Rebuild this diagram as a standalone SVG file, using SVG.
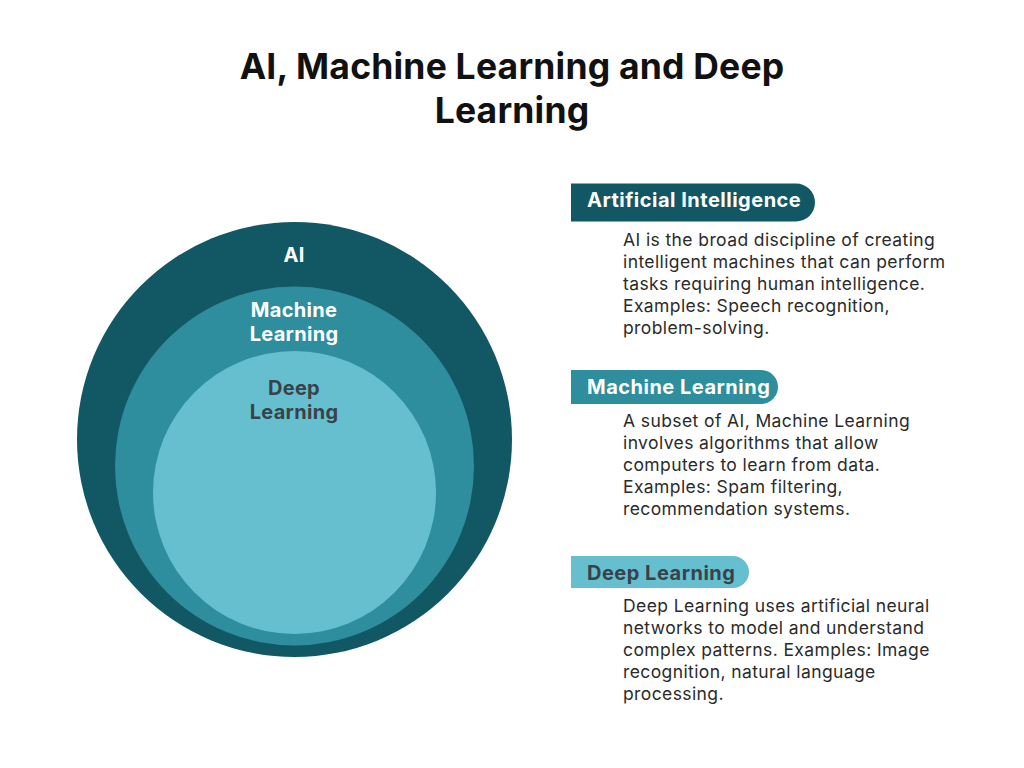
<svg xmlns="http://www.w3.org/2000/svg" width="1024" height="768" viewBox="0 0 1024 768">
<style>
.title{font-family:Inter,"Liberation Sans",sans-serif;font-weight:700;font-size:35.5px;fill:#111;text-anchor:middle;letter-spacing:0.2px}
.clabel{font-family:Inter,"Liberation Sans",sans-serif;font-weight:700;font-size:20px;text-anchor:middle;letter-spacing:0.3px}
.pill{font-family:Inter,"Liberation Sans",sans-serif;font-weight:700;font-size:20px;letter-spacing:0.5px}
.body{font-family:Inter,"Liberation Sans",sans-serif;font-size:17.5px;fill:#2b2b2b;letter-spacing:0.4px}
.w{fill:#ffffff}
.d{fill:#38424a}
</style>
<rect width="1024" height="768" fill="#ffffff"/>
<g id="title">
<text class="title" x="512" y="79">AI, Machine Learning and Deep</text>
<text class="title" x="512" y="123">Learning</text>
</g>
<g id="ai-circle">
<circle cx="294.5" cy="439.5" r="217.5" fill="#115864"/>
<text class="clabel w" x="294" y="262">AI</text>
</g>
<g id="ml-circle">
<circle cx="294.5" cy="466" r="179.5" fill="#2e8e9d"/>
<text class="clabel w" x="294" y="317">Machine</text>
<text class="clabel w" x="294" y="341">Learning</text>
</g>
<g id="dl-circle">
<circle cx="294.5" cy="492.5" r="141.5" fill="#66bfcf"/>
<text class="clabel d" x="294" y="395">Deep</text>
<text class="clabel d" x="294" y="419">Learning</text>
</g>
<g id="ai-desc">
<path d="M571 183.5 H796 A19 19 0 0 1 796 221.5 H571 Z" fill="#115864"/>
<text class="pill w" x="587" y="206.5">Artificial Intelligence</text>
<text class="body" x="623" y="246">AI is the broad discipline of creating</text>
<text class="body" x="623" y="268">intelligent machines that can perform</text>
<text class="body" x="623" y="290">tasks requiring human intelligence.</text>
<text class="body" x="623" y="312">Examples: Speech recognition,</text>
<text class="body" x="623" y="334">problem-solving.</text>
</g>
<g id="ml-desc">
<path d="M571 370 H761 A17 17 0 0 1 761 404 H571 Z" fill="#2e8e9d"/>
<text class="pill w" x="587" y="394">Machine Learning</text>
<text class="body" x="623" y="427">A subset of AI, Machine Learning</text>
<text class="body" x="623" y="449">involves algorithms that allow</text>
<text class="body" x="623" y="471">computers to learn from data.</text>
<text class="body" x="623" y="493">Examples: Spam filtering,</text>
<text class="body" x="623" y="515">recommendation systems.</text>
</g>
<g id="dl-desc">
<path d="M571 556 H733 A16 16 0 0 1 733 588 H571 Z" fill="#66bfcf"/>
<text class="pill d" x="587" y="579.5">Deep Learning</text>
<text class="body" x="623" y="612">Deep Learning uses artificial neural</text>
<text class="body" x="623" y="634">networks to model and understand</text>
<text class="body" x="623" y="656">complex patterns. Examples: Image</text>
<text class="body" x="623" y="678">recognition, natural language</text>
<text class="body" x="623" y="700">processing.</text>
</g>
<g id="connectors"></g>
</svg>
